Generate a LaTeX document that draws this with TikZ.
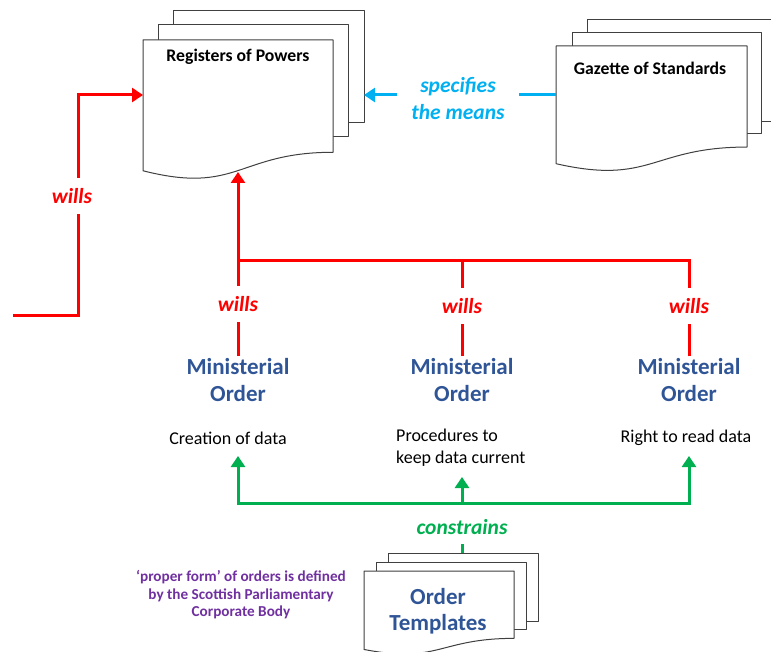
\documentclass[tikz,border=0pt]{standalone}
\usepackage{fontspec}
\setmainfont{Carlito}
\usetikzlibrary{arrows.meta}
\definecolor{cred}{HTML}{FF0000}
\definecolor{cblue}{HTML}{00B0F0}
\definecolor{cgreen}{HTML}{00B050}
\definecolor{cnavy}{HTML}{2F5597}
\definecolor{cpurple}{HTML}{7030A0}
\definecolor{cedge}{HTML}{404040}
\newcommand\docpage[5]{%
  \path[#1] (#2,#3) -- (#4,#3) -- (#4,{#3+0.802*#5})
    .. controls ({(#2+#4)/2},{#3+0.802*#5}) and ({(#2+#4)/2},{#3+1.107*#5}) ..
    (#2,{#3+0.934*#5}) -- cycle;}
\tikzset{
  page/.style={draw=cedge, fill=white, line width=1pt, line join=round},
  redline/.style={draw=cred, line width=3pt, line join=miter},
  redarrow/.style={redline, -{Triangle[length=11pt,width=14pt]}},
  blueline/.style={draw=cblue, line width=3pt},
  bluearrow/.style={blueline, -{Triangle[length=11pt,width=14pt]}},
  greenline/.style={draw=cgreen, line width=3pt, line join=miter},
  greenarrow/.style={greenline, -{Triangle[length=11pt,width=14pt]}},
  verb/.style={font=\fontsize{21.5}{27}\selectfont\bfseries\itshape, inner xsep=10pt, inner ysep=9pt, text height=17pt, text depth=1pt},
  redverb/.style={verb, text=cred},
  doctitle/.style={font=\fontsize{17.7}{20}\selectfont\bfseries, inner sep=0pt},
  order/.style={font=\fontsize{23}{26.5}\selectfont\bfseries, text=cnavy, align=center, inner sep=2pt},
  desc/.style={font=\fontsize{18}{22}\selectfont, inner sep=0pt},
  note/.style={font=\fontsize{15.2}{17.5}\selectfont\bfseries, text=cpurple, align=center, inner sep=0pt},
}
\begin{document}
\begin{tikzpicture}[x=1pt,y=-1pt]
\useasboundingbox (0,0) rectangle (771,652);
% Registers of Powers
\path[page] (173,11) rectangle (364,123);
\path[page] (158,25) rectangle (348,137);
\docpage{page}{143}{40}{333}{140}
\node[doctitle] (regT) at (238,57) {Registers of Powers};
% Gazette of Standards
\path[page] (587,20) rectangle (800,122);
\path[page] (572,33) rectangle (761,134);
\docpage{page}{556}{46}{747}{126}
\node[doctitle] (gazT) at (650,68) {Gazette of Standards};
% Order Templates
\path[page] (388,553) rectangle (538,621);
\path[page] (376,562) rectangle (526,629);
\docpage{page}{364}{571}{514}{84}
\node[order] (tmpl) at (438,611) {Order\\Templates};
% coordinates on the documents
\coordinate (regW) at (143,95);
\coordinate (regR) at (364,95);
\coordinate (regB) at (238,172);
\coordinate (gazL) at (556,95);
\coordinate (tmplTop) at (462,553);
% left wills
\coordinate (lstart) at (13,316);
\node[redverb] (w0) at (72,196) {wills};
\draw[redline] (lstart) -| ([xshift=6pt]w0.south);
\draw[redarrow] ([xshift=6pt]w0.north) |- (regW);
% specifies the means
\node[font=\fontsize{21.5}{27}\selectfont\bfseries\itshape, text=cblue, align=center, inner xsep=14pt, inner ysep=2pt] (spec) at (458,99) {specifies\\the means};
\draw[blueline] (gazL) -- (gazL -| spec.east);
\draw[bluearrow] (regR -| spec.west) -- (regR);
% ministerial orders
\node[order] (mo1) at (238,380) {Ministerial\\Order};
\node[order] (mo2) at (462,380) {Ministerial\\Order};
\node[order] (mo3) at (689,380) {Ministerial\\Order};
\node[redverb] (w1) at (238,304) {wills};
\node[redverb] (w2) at (462,306) {wills};
\node[redverb] (w3) at (689,306) {wills};
\coordinate (rj) at (238,261);
\draw[redarrow] (w1.north) -- (regB);
\draw[redline] (w2.north) |- (rj);
\draw[redline] (w3.north) |- (rj);
\draw[redline] (mo1.north) -- (w1.south);
\draw[redline] (mo2.north) -- (w2.south);
\draw[redline] (mo3.north) -- (w3.south);
% descriptions
\node[desc] (d1) at (228,438) {Creation of data};
\node[desc, align=left, anchor=north west] (d2) at (396,429) {Procedures to\\keep data current};
\node[desc] (d3) at (686,438) {Right to read data};
\coordinate (c1) at (238,456);
\coordinate (c2) at (462,477);
\coordinate (c3) at (689,456);
% constrains
\node[verb, text=cgreen] (con) at (462,526) {constrains};
\coordinate (gj) at (462,503);
\draw[greenarrow] (gj) -| (c1);
\draw[greenarrow] (gj) -| (c3);
\draw[greenarrow] (gj) -- (c2);
\draw[greenline] (con.south) -- (tmplTop);
% note
\node[note] (nt) at (241,595) {‘proper form’ of orders is defined\\by the Scottish Parliamentary\\Corporate Body};
\end{tikzpicture}
\end{document}
